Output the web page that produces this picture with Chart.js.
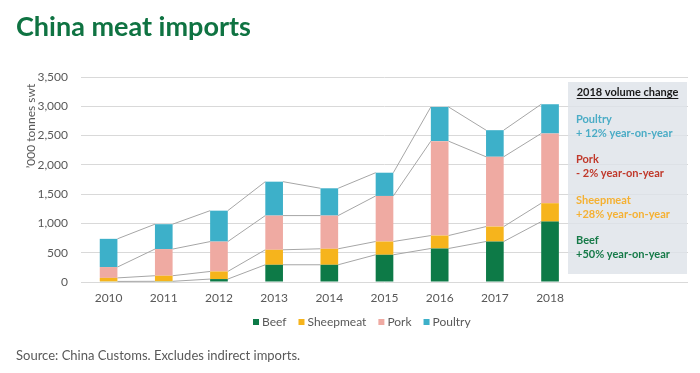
<!DOCTYPE html>
<html>
<head>
<meta charset="utf-8">
<script src="https://cdn.jsdelivr.net/npm/chart.js@4.4.1/dist/chart.umd.min.js"></script>
<style>
  body { margin: 0; background: #fff; }
  #wrap { position: relative; width: 700px; height: 373px; }
</style>
</head>
<body>
<div id="wrap"><canvas id="myChart" width="700" height="373"></canvas></div>
<script>
var years = ['2010', '2011', '2012', '2013', '2014', '2015', '2016', '2017', '2018'];
var beef = [10, 12, 50, 294, 294, 465, 572, 691, 1031];
var sheepmeat = [60, 95, 130, 256, 273, 226, 221, 255, 314];
var pork = [185, 455, 510, 584, 567, 778, 1612, 1192, 1191];
var poultry = [482, 425, 528, 579, 466, 397, 584, 454, 499];
var yTicks = [0, 500, 1000, 1500, 2000, 2500, 3000, 3500];

var seriesNames = ['Beef', 'Sheepmeat', 'Pork', 'Poultry'];
var seriesColors = ['#0d7a47', '#f6b41c', '#efaaa2', '#3db0c9'];

// encadré "2018 volume change" (du haut vers le bas)
var noteTitle = '2018 volume change';
var noteNames = ['Poultry', 'Pork', 'Sheepmeat', 'Beef'];
var noteChanges = ['+ 12% year-on-year', '- 2% year-on-year', '+28% year-on-year', '+50% year-on-year'];
var noteColors = ['#4aacc6', '#c0392b', '#f5b133', '#167a48'];

var font = 'Lato, "Liberation Sans", sans-serif';
var grey = '#595959';

// deux catégories vides pour laisser la place à l'encadré
var labels = years.concat(['', '']);

// lignes de liaison entre les barres (series lines)
var seriesLines = {
    id: 'seriesLines',
    beforeDatasetsDraw: function(chart) {
        var ctx = chart.ctx;
        ctx.save();
        ctx.strokeStyle = '#a6a6a6';
        ctx.lineWidth = 1;
        chart.data.datasets.forEach(function(ds, i) {
            var bars = chart.getDatasetMeta(i).data;
            for (var j = 0; j < years.length - 1; j++) {
                var a = bars[j], b = bars[j + 1];
                ctx.beginPath();
                ctx.moveTo(a.x + a.width / 2, a.y);
                ctx.lineTo(b.x - b.width / 2, b.y);
                ctx.stroke();
            }
        });
        ctx.restore();
    }
};

var decorations = {
    id: 'decorations',
    afterDraw: function(chart) {
        var ctx = chart.ctx;
        ctx.save();

        // Titre
        ctx.fillStyle = '#0f7342';
        ctx.font = 'bold 27px ' + font;
        ctx.textAlign = 'left';
        ctx.textBaseline = 'alphabetic';
        ctx.fillText('China meat imports', 16, 36);

        // Titre de l'axe Y
        ctx.save();
        ctx.translate(31, 126);
        ctx.rotate(-Math.PI / 2);
        ctx.fillStyle = grey;
        ctx.font = '12px ' + font;
        ctx.textAlign = 'center';
        ctx.textBaseline = 'middle';
        ctx.fillText('\u2019000 tonnes swt', 0, 0);
        ctx.restore();

        // Encadré
        ctx.fillStyle = 'rgba(222, 227, 233, 0.82)';
        ctx.fillRect(568, 82, 119, 192);
        ctx.textBaseline = 'middle';
        ctx.font = 'bold 11px ' + font;
        ctx.fillStyle = '#1a1a1a';
        ctx.textAlign = 'center';
        ctx.fillText(noteTitle, 627.5, 92);
        var w = ctx.measureText(noteTitle).width;
        ctx.fillRect(627.5 - w / 2, 98, w, 1);
        ctx.textAlign = 'left';
        for (var i = 0; i < noteNames.length; i++) {
            ctx.fillStyle = noteColors[i];
            ctx.fillText(noteNames[i], 576, 119 + i * 40.5);
            ctx.fillText(noteChanges[i], 576, 133 + i * 40.5);
        }

        // Légende
        ctx.font = '12px ' + font;
        var x = 253;
        for (var k = 0; k < seriesNames.length; k++) {
            ctx.fillStyle = seriesColors[k];
            ctx.fillRect(x, 319, 6, 6);
            ctx.fillStyle = grey;
            ctx.fillText(seriesNames[k], x + 9, 322);
            x += 9 + ctx.measureText(seriesNames[k]).width + 12;
        }

        // Source
        ctx.font = '13px ' + font;
        ctx.fillStyle = grey;
        ctx.fillText('Source: China Customs. Excludes indirect imports.', 16, 356);
        ctx.restore();
    }
};

var datasets = seriesNames.map(function(name, i) {
    return {
        label: name,
        data: [beef, sheepmeat, pork, poultry][i],
        backgroundColor: seriesColors[i],
        borderWidth: 0,
        categoryPercentage: 1,
        barPercentage: 0.32
    };
});

var myChart = new Chart(document.getElementById('myChart').getContext('2d'), {
    type: 'bar',
    data: { labels: labels, datasets: datasets },
    options: {
        responsive: false,
        animation: false,
        devicePixelRatio: 1,
        layout: { padding: { top: 77, right: 12, left: 0, bottom: 0 } },
        plugins: {
            legend: { display: false },
            tooltip: { enabled: false }
        },
        scales: {
            x: {
                stacked: true,
                grid: { display: false, drawTicks: false },
                border: { display: false },
                ticks: { color: grey, font: { family: font, size: 12 }, padding: 9, maxRotation: 0 },
                afterFit: function(scale) { scale.height = 91; }
            },
            y: {
                stacked: true,
                min: 0,
                max: 3500,
                afterBuildTicks: function(scale) {
                    scale.ticks = yTicks.map(function(v) { return { value: v }; });
                },
                grid: { color: '#d9d9d9', drawTicks: false },
                border: { display: false },
                ticks: {
                    color: grey,
                    font: { family: font, size: 12 },
                    padding: 13,
                    callback: function(v) { return v.toLocaleString('en-US'); }
                },
                afterFit: function(scale) { scale.width = 81; }
            }
        }
    },
    plugins: [seriesLines, decorations]
});
</script>
</body>
</html>
